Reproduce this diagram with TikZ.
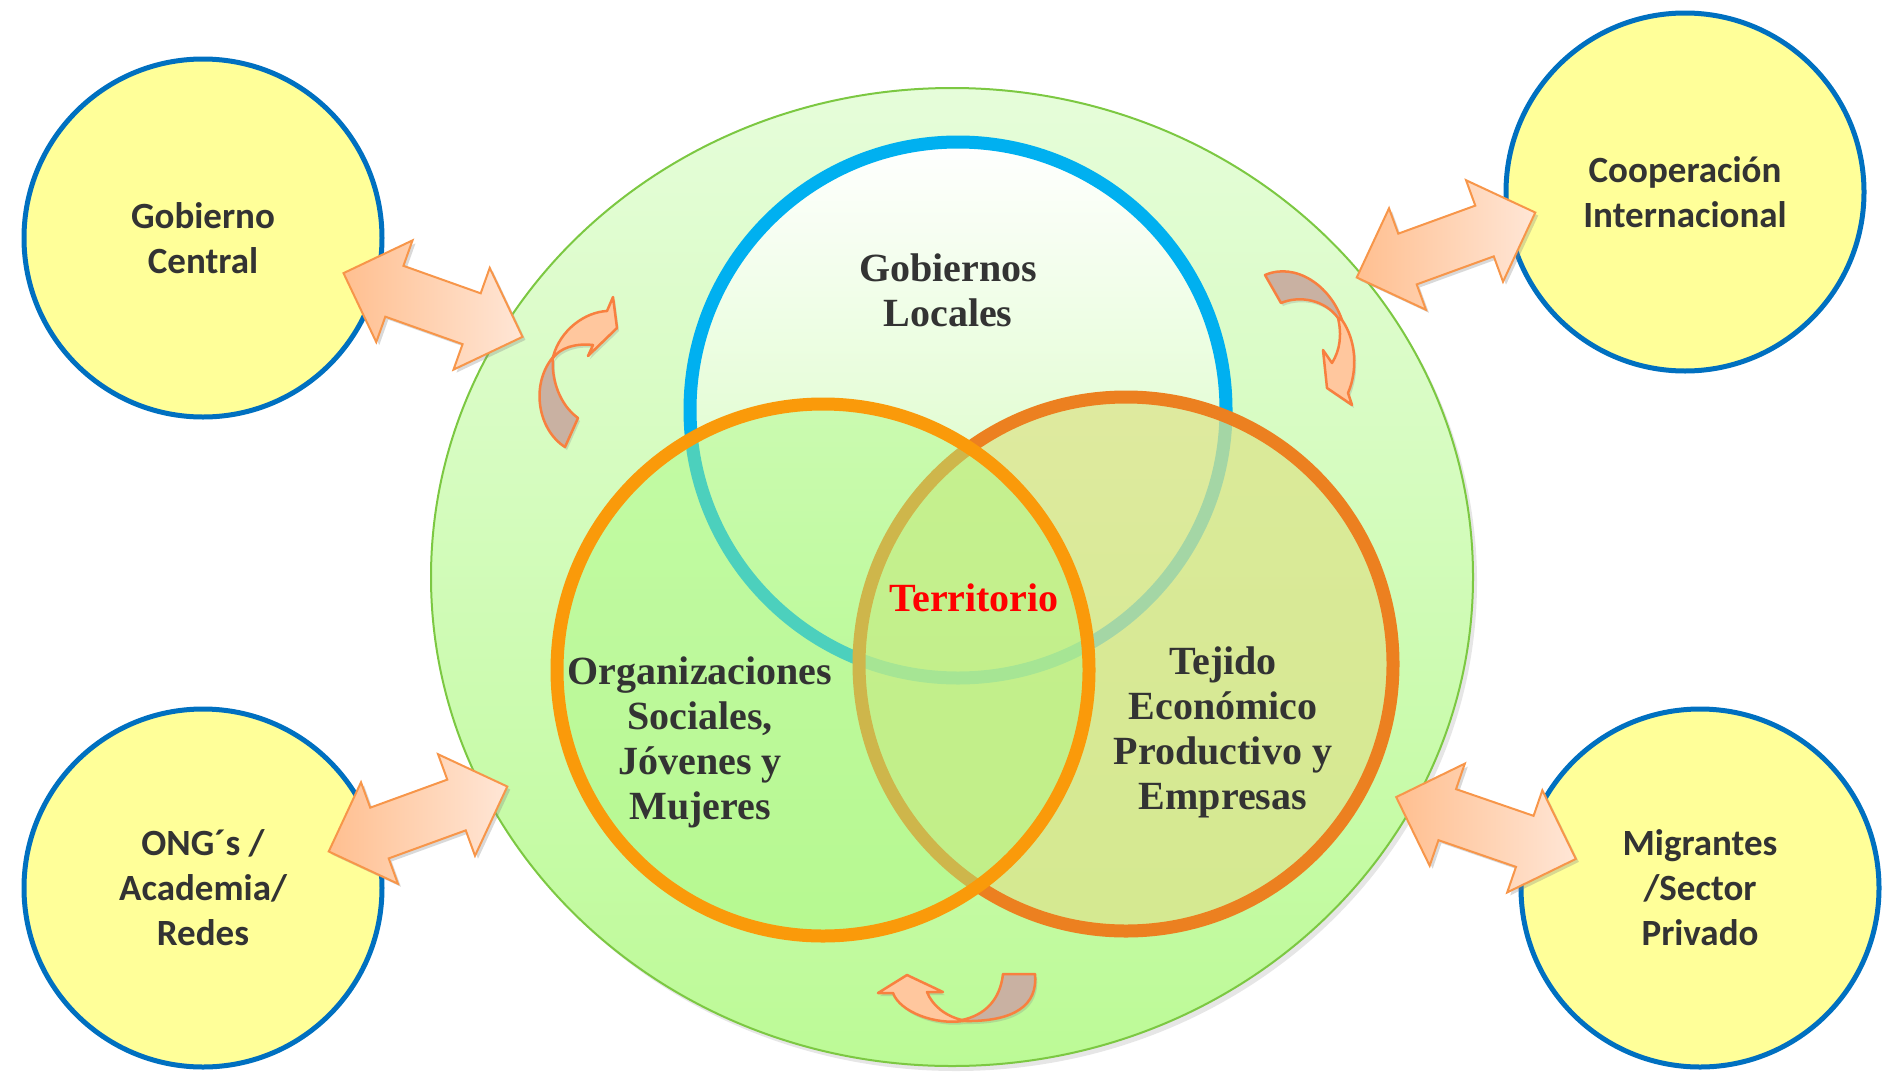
\documentclass[tikz,border=0pt]{standalone}
\usepackage{fontspec}
\setmainfont{Liberation Serif}
\newfontfamily\calibri{Carlito}
\usepackage{tikz}
\usetikzlibrary{shapes.geometric,shapes.arrows,shadows,positioning}
\definecolor{actorfill}{HTML}{FFFF99}
\definecolor{actorline}{HTML}{0070C0}
\definecolor{localring}{HTML}{00B0F0}
\definecolor{socring}{HTML}{FA9A0A}
\definecolor{ecoring}{HTML}{EC8020}
\definecolor{socfill}{HTML}{AAF880}
\definecolor{ecofill}{HTML}{DCE48C}
\definecolor{terrtop}{HTML}{E6FDDA}
\definecolor{terrbot}{HTML}{BCFA96}
\definecolor{terrline}{HTML}{7CC842}
\definecolor{arrline}{HTML}{F7964A}
\definecolor{arrdark}{HTML}{FFBF90}
\definecolor{arrlight}{HTML}{FFE6D6}
\definecolor{turnback}{HTML}{C9B1A2}
\definecolor{turnfront}{HTML}{FFC79E}
\definecolor{txt}{HTML}{333333}
\tikzstyle{actor} =[circle, draw=actorline, fill=actorfill, line width=5pt,
                    minimum size=358pt, inner sep=0pt, text=txt, align=center,
                    font=\calibri\bfseries\fontsize{37}{45}\selectfont]
\tikzstyle{ring}  =[circle, line width=13pt, inner sep=0pt]
\tikzstyle{label} =[text=txt, align=center,
                    font=\bfseries\fontsize{40}{45}\selectfont]
\tikzstyle{link}  =[double arrow, draw=arrline, line width=2pt,
                    left color=arrdark, right color=arrlight,
                    minimum height=190pt, inner sep=26pt,
                    double arrow head extend=27pt, double arrow tip angle=90,
                    drop shadow={opacity=0.3, shadow xshift=3pt, shadow yshift=-3pt}]
\tikzstyle{turn}  =[draw=arrline!85!red, line width=2.5pt, line join=round,
                    drop shadow={opacity=0.25, shadow xshift=2pt, shadow yshift=-3pt}]

\begin{document}
\begin{tikzpicture}[x=1pt, y=-1pt]
    \useasboundingbox (0,0) rectangle (1884,1071);

    % territorio
    \node (terr) [ellipse, draw=terrline, line width=2pt, top color=terrtop,
        bottom color=terrbot, minimum width=1042pt, minimum height=978pt,
        drop shadow={opacity=0.2, shadow xshift=4pt, shadow yshift=-5pt}] at (952,577) {};

    % the three circles
    \node (local)  [ring, draw=localring, top color=white, middle color=white,
        bottom color=terrtop!40!terrbot, minimum size=536pt] at (958,410) {};
    \node (eco)    [ring, draw=ecoring, fill=ecofill, fill opacity=0.75,
        minimum size=534pt] at (1126,664) {};
    \node (social) [ring, draw=socring, fill=socfill, fill opacity=0.45,
        minimum size=532pt] at (823,670) {};

    \node (gl)  [label] at (948,290) {Gobiernos\\Locales};
    \node (ter) [label, text=red] at (974,598) {Territorio};
    \node (org) [label] at (700,742) {Organizaciones\\Sociales,\\Jóvenes y\\Mujeres};
    \node (tej) [label] at (1223,732) {Tejido\\Económico\\Productivo y\\Empresas};

    % outside actors
    \node (gob)  [actor] at (203,238)  {Gobierno\\Central};
    \node (coop) [actor] at (1685,192) {Cooperación\\Internacional};
    \node (ong)  [actor] at (203,888)  {ONG´s /\\Academia/\\Redes};
    \node (migr) [actor] at (1700,888) {Migrantes\\/Sector\\Privado};

    % double arrows
    \node (l1) [link, rotate=-19.6] at (433,305)  {};
    \node (l2) [link, rotate=20]    at (1446,245) {};
    \node (l3) [link, rotate=20]    at (418,819)  {};
    \node (l4) [link, rotate=-19]   at (1486,828) {};

    % turning arrows
    \draw[turn, fill=turnback] (578,418) -- (565,447)
        .. controls (538,430) and (530,385) .. (553,357)
        .. controls (551,380) and (560,405) .. (578,418) -- cycle;
    \draw[turn, fill=turnfront] (553,357)
        .. controls (560,330) and (585,312) .. (607,311) -- (613,297)
        -- (617,328) -- (588,356) -- (593,345)
        .. controls (575,343) and (560,348) .. (553,358) -- cycle;

    \draw[turn, fill=turnback] (1265,275)
        .. controls (1295,262) and (1330,285) .. (1342,320) -- (1338,318)
        .. controls (1325,300) and (1300,295) .. (1281,303) -- cycle;
    \draw[turn, fill=turnfront] (1342,320)
        .. controls (1356,340) and (1358,370) .. (1348,393) -- (1352,405)
        -- (1327,388) -- (1323,350) -- (1332,363)
        .. controls (1340,350) and (1342,335) .. (1338,318) -- cycle;

    \draw[turn, fill=turnback] (1003,974) -- (1035,974)
        .. controls (1038,1005) and (1015,1022) .. (963,1021) -- (962,1020)
        .. controls (985,1015) and (1000,1000) .. (1003,974) -- cycle;
    \draw[turn, fill=turnfront] (963,1021)
        .. controls (935,1025) and (900,1012) .. (893,993) -- (878,993)
        -- (907,975) -- (943,992) -- (927,992)
        .. controls (932,1005) and (945,1016) .. (962,1020) -- cycle;
\end{tikzpicture}
\end{document}
